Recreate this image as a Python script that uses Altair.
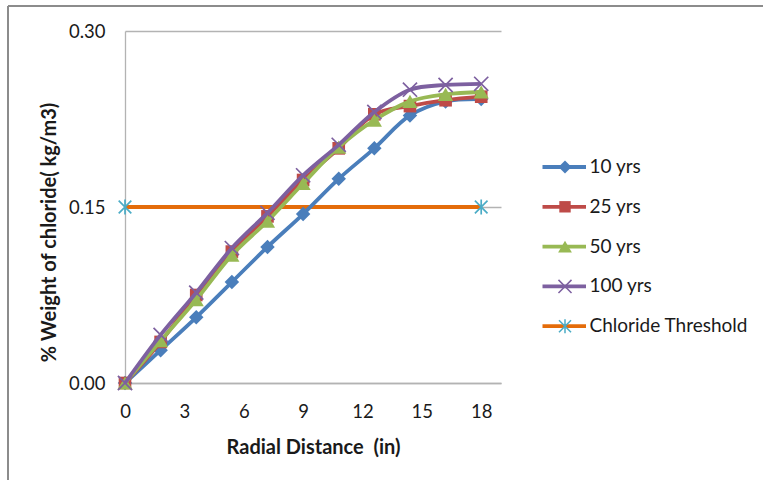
import altair as alt
import pandas as pd

# Radial distance from the surface (in) at which chloride content is reported
radial_in = [0, 1.8, 3.6, 5.4, 7.2, 9.0, 10.8, 12.6, 14.4, 16.2, 18.0]

# % weight of chloride (kg/m3) after each exposure period
yrs_10 = [0, 0.028, 0.056, 0.086, 0.116, 0.144, 0.174, 0.200, 0.228, 0.240, 0.242]
yrs_25 = [0, 0.035, 0.075, 0.112, 0.142, 0.173, 0.200, 0.229, 0.236, 0.241, 0.244]
yrs_50 = [0, 0.036, 0.071, 0.109, 0.138, 0.170, 0.201, 0.224, 0.240, 0.246, 0.248]
yrs_100 = [0, 0.041, 0.077, 0.115, 0.145, 0.177, 0.203, 0.231, 0.250, 0.254, 0.255]

# Chloride threshold line
threshold_x = [0, 18]
threshold_y = [0.15, 0.15]

x_ticks = [0, 3, 6, 9, 12, 15, 18]
y_ticks = [0.0, 0.15, 0.30]

series_names = ["10 yrs", "25 yrs", "50 yrs", "100 yrs"]
series_values = [yrs_10, yrs_25, yrs_50, yrs_100]
series_colors = ["#4A7EBB", "#BE4B48", "#98B954", "#7D60A0"]

CROSS = "M-1,-1L1,1M-1,1L1,-1"
STAR = "M0,-1L0,1M-0.85,-0.85L0.85,0.85M-0.85,0.85L0.85,-0.85"
series_shapes = ["diamond", "square", "triangle-up", CROSS]
series_sizes = [210, 160, 230, 200]

THRESH_COLOR = "#E46C0A"
STAR_COLOR = "#4BACC6"
TEXT_COLOR = "#1a1a1a"
FONT = "Lato"
W, H = 376, 352
PAD_L, PAD_T = 125, 31


def x_enc():
    return alt.X(
        "x:Q",
        scale=alt.Scale(domain=[0, 19], nice=False, zero=False),
        axis=alt.Axis(
            values=x_ticks, title="Radial Distance\u00a0 (in)", grid=False,
            ticks=False, labelPadding=19, labelFontSize=18.5, labelFont=FONT,
            labelFlush=False, labelColor=TEXT_COLOR, domainColor="#B3B3B3",
            domainWidth=1.3, titleFont=FONT, titleFontSize=20, titleFontWeight="bold",
            titleColor=TEXT_COLOR, titleY=64, titleBaseline="middle",
        ),
    )


def y_enc():
    return alt.Y(
        "y:Q",
        scale=alt.Scale(domain=[0, 0.30], nice=False),
        axis=alt.Axis(
            values=y_ticks, format=".2f", title="% Weight of chloride( kg/m3)",
            grid=True, gridColor="#B3B3B3", gridWidth=1.3, ticks=False,
            labelPadding=20, labelFontSize=18.5, labelFont=FONT, labelColor=TEXT_COLOR,
            labelFlush=False, domainColor="#B3B3B3", domainWidth=1.3,
            titleFont=FONT, titleFontSize=20, titleFontWeight="bold",
            titleColor=TEXT_COLOR, titleX=-76, titleY=201, titleBaseline="middle",
        ),
    )


layers = []

# Threshold line with star markers at its ends
thr_df = pd.DataFrame({"x": threshold_x, "y": threshold_y})
thr_base = alt.Chart(thr_df)
layers.append(thr_base.mark_line(color=THRESH_COLOR, strokeWidth=3.8).encode(x=x_enc(), y=y_enc()))
layers.append(
    thr_base.mark_point(shape=STAR, size=220, color=STAR_COLOR, strokeWidth=1.7, filled=False, opacity=1)
    .encode(x=x_enc(), y=y_enc())
)

# One smoothed line plus markers per exposure period
for name, vals, col, shp, sz in zip(series_names, series_values, series_colors, series_shapes, series_sizes):
    df = pd.DataFrame({"x": radial_in, "y": vals, "series": name})
    base = alt.Chart(df)
    layers.append(
        base.mark_line(color=col, strokeWidth=3.8, interpolate="catmull-rom").encode(x=x_enc(), y=y_enc())
    )
    if shp == CROSS:
        pts = base.mark_point(shape=shp, size=sz, color=col, strokeWidth=1.7, filled=False, opacity=1)
    else:
        pts = base.mark_point(shape=shp, size=sz, color=col, filled=True, opacity=1)
    layers.append(pts.encode(x=x_enc(), y=y_enc()))

# Legend drawn beside the plot: line sample, marker and label per entry
legend_names = series_names + ["Chloride Threshold"]
legend_line_colors = series_colors + [THRESH_COLOR]
legend_marker_colors = series_colors + [STAR_COLOR]
legend_shapes = series_shapes + [STAR]
legend_sizes = [170, 130, 190, 170, 200]
row0, row_gap = 136, 39.8
for i, (nm, lc, mc, shp, sz) in enumerate(
    zip(legend_names, legend_line_colors, legend_marker_colors, legend_shapes, legend_sizes)
):
    ydat = alt.Data(values=[{"label": nm}])
    yy = row0 + i * row_gap
    layers.append(
        alt.Chart(ydat).mark_rule(color=lc, strokeWidth=3.8).encode(
            x=alt.value(417.5), x2=alt.value(461), y=alt.value(yy)
        )
    )
    if shp in (CROSS, STAR):
        mk = alt.Chart(ydat).mark_point(shape=shp, size=sz, color=mc, strokeWidth=1.5, filled=False, opacity=1)
    else:
        mk = alt.Chart(ydat).mark_point(shape=shp, size=sz, color=mc, filled=True, opacity=1)
    layers.append(mk.encode(x=alt.value(440), y=alt.value(yy)))
    layers.append(
        alt.Chart(ydat).mark_text(
            align="left", baseline="middle", font=FONT, fontSize=19, color=TEXT_COLOR
        ).encode(x=alt.value(464.5), y=alt.value(yy), text="label:N")
    )

# Chart-area frame (left and top edges)
frame = alt.Data(values=[{"k": 1}])
layers.append(
    alt.Chart(frame).mark_rule(color="#8C8C8C", strokeWidth=2).encode(
        x=alt.value(8 - PAD_L), y=alt.value(6 - PAD_T), y2=alt.value(480 - PAD_T + 20)
    )
)
layers.append(
    alt.Chart(frame).mark_rule(color="#8C8C8C", strokeWidth=2).encode(
        x=alt.value(8 - PAD_L), x2=alt.value(763 - PAD_L + 20), y=alt.value(6 - PAD_T)
    )
)

chart = (
    alt.layer(*layers)
    .properties(
        width=W,
        height=H,
        autosize=alt.AutoSizeParams(type="none"),
        padding={"left": PAD_L, "top": PAD_T, "right": 763 - PAD_L - W, "bottom": 480 - PAD_T - H},
        background="white",
    )
    .configure_view(stroke=None)
)

chart.save("out.html", embed_options={"renderer": "svg", "actions": False})
